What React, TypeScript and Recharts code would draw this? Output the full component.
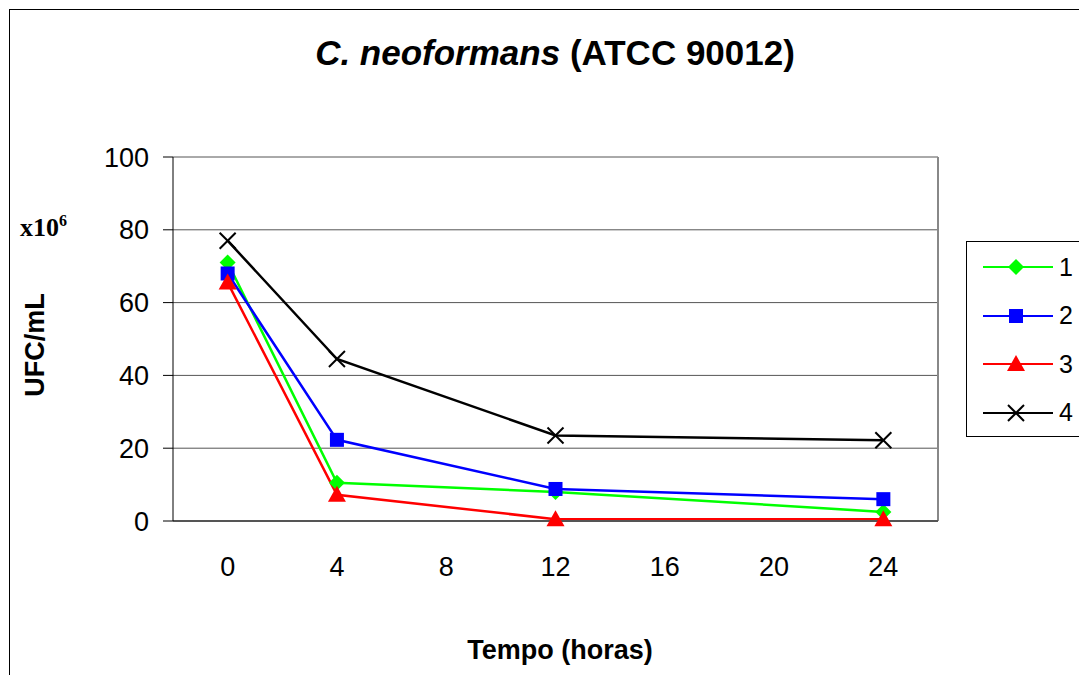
import React from "react"
import {
  LineChart,
  Line,
  XAxis,
  YAxis,
  CartesianGrid,
  ReferenceLine,
} from "recharts"

const hours = [0, 4, 12, 24]
const serie1 = [71, 10.5, 8, 2.5]
const serie2 = [68, 22.3, 8.8, 6]
const serie3 = [65.5, 7.2, 0.5, 0.5]
const serie4 = [77, 44.5, 23.5, 22.2]
const xLabels = [0, 4, 8, 12, 16, 20, 24]
const xBounds = [-2, 2, 6, 10, 14, 18, 22, 26]
const yTicks = [0, 20, 40, 60, 80, 100]

const data = hours.map((h, i) => ({
  h,
  s1: serie1[i],
  s2: serie2[i],
  s3: serie3[i],
  s4: serie4[i],
}))

const FONT = "'Liberation Sans', Arial, sans-serif"

type Shape = "diamond" | "square" | "triangle" | "cross"

const series: { key: string; name: string; color: string; shape: Shape }[] = [
  { key: "s1", name: "1", color: "#00ff00", shape: "diamond" },
  { key: "s2", name: "2", color: "#0000ff", shape: "square" },
  { key: "s3", name: "3", color: "#ff0000", shape: "triangle" },
  { key: "s4", name: "4", color: "#000000", shape: "cross" },
]

function Marker({ cx, cy, shape, color }: { cx: number; cy: number; shape: Shape; color: string }) {
  if (cx == null || cy == null) return <g />
  const r = 8
  if (shape === "diamond")
    return <polygon points={`${cx},${cy - r} ${cx + r},${cy} ${cx},${cy + r} ${cx - r},${cy}`} fill={color} />
  if (shape === "square")
    return <rect x={cx - 7} y={cy - 7} width={14} height={14} fill={color} />
  if (shape === "triangle")
    return <polygon points={`${cx},${cy - 9} ${cx + 9},${cy + 7} ${cx - 9},${cy + 7}`} fill={color} />
  return (
    <g stroke={color} strokeWidth={2}>
      <line x1={cx - 8} y1={cy - 8} x2={cx + 8} y2={cy + 8} />
      <line x1={cx - 8} y1={cy + 8} x2={cx + 8} y2={cy - 8} />
    </g>
  )
}

function LegendBox() {
  return (
    <div
      style={{
        position: "absolute",
        left: 966,
        top: 241,
        border: "1px solid #000",
        background: "#fff",
        width: 130,
        height: 196,
        boxSizing: "border-box",
        paddingTop: 1,
        fontFamily: FONT,
      }}
    >
      {series.map((s) => (
        <div key={s.key} style={{ display: "flex", alignItems: "center", height: 48.5 }}>
          <svg width={92} height={30}>
            <line x1={16} y1={15} x2={86} y2={15} stroke={s.color} strokeWidth={2} />
            <Marker cx={49} cy={15} shape={s.shape} color={s.color} />
          </svg>
          <span style={{ fontSize: 25, color: "#000" }}>{s.name}</span>
        </div>
      ))}
    </div>
  )
}

export default function App() {
  return (
    <div style={{ position: "absolute", left: 0, top: 0, width: 1079, height: 675, background: "#fff", overflow: "hidden" }}>
      <div
        style={{
          position: "absolute",
          left: 9,
          top: 9,
          width: 1100,
          height: 700,
          borderLeft: "1.5px solid #000",
          borderTop: "1.5px solid #000",
        }}
      />
      <div
        style={{
          position: "absolute",
          left: 0,
          width: 1110,
          top: 33,
          textAlign: "center",
          fontFamily: FONT,
          fontWeight: "bold",
          fontSize: 35,
        }}
      >
        <i>C. neoformans</i> (ATCC 90012)
      </div>
      <div
        style={{
          position: "absolute",
          left: 20,
          top: 212,
          fontFamily: "'Liberation Serif', 'Times New Roman', serif",
          fontWeight: "bold",
          fontSize: 26,
        }}
      >
        x10<sup style={{ fontSize: 16 }}>6</sup>
      </div>
      <div
        style={{
          position: "absolute",
          left: 35,
          top: 345,
          transform: "translate(-50%, -50%) rotate(-90deg)",
          fontFamily: FONT,
          fontWeight: "bold",
          fontSize: 27,
          whiteSpace: "nowrap",
        }}
      >
        UFC/mL
      </div>
      <div
        style={{
          position: "absolute",
          left: 560,
          top: 650,
          transform: "translate(-50%, -50%)",
          fontFamily: FONT,
          fontWeight: "bold",
          fontSize: 27,
          whiteSpace: "nowrap",
        }}
      >
        Tempo (horas)
      </div>
      <div style={{ position: "absolute", left: 0, top: 0 }}>
        <LineChart
          width={1079}
          height={675}
          data={data}
          margin={{ top: 157, right: 141, left: 93, bottom: 104 }}
          style={{ fontFamily: FONT }}
        >
          <CartesianGrid vertical={false} stroke="#555" strokeWidth={1} />
          <XAxis
            dataKey="h"
            type="number"
            domain={[-2, 26]}
            ticks={xBounds}
            tick={false}
            tickSize={10}
            height={10}
            stroke="#555"
            strokeWidth={2}
          />
          <XAxis
            xAxisId="lbl"
            dataKey="h"
            type="number"
            domain={[-2, 26]}
            ticks={xLabels}
            axisLine={false}
            tickLine={false}
            tickSize={0}
            tickMargin={26}
            height={40}
            tick={{ fill: "#000", fontSize: 27 }}
          />
          <YAxis
            type="number"
            domain={[0, 100]}
            ticks={yTicks}
            width={80}
            tickSize={10}
            tickMargin={14}
            stroke="#000"
            tick={{ fill: "#000", fontSize: 27 }}
          />
          <ReferenceLine x={26} stroke="#888" strokeWidth={2} />
          {series.map((s) => (
            <Line
              key={s.key}
              dataKey={s.key}
              name={s.name}
              stroke={s.color}
              strokeWidth={2.5}
              type="linear"
              isAnimationActive={false}
              dot={(p: any) => <Marker key={`${s.key}-${p.index}`} cx={p.cx} cy={p.cy} shape={s.shape} color={s.color} />}
              activeDot={false}
            />
          ))}
        </LineChart>
      </div>
      <LegendBox />
    </div>
  )
}
